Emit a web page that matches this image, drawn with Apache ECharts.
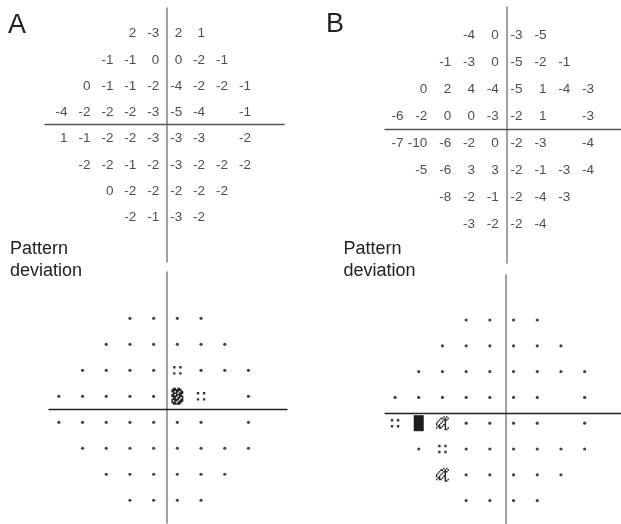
<!DOCTYPE html>
<html><head><meta charset="utf-8">
<script src="https://cdn.jsdelivr.net/npm/echarts@6/dist/echarts.min.js"></script>
<style>html,body{margin:0;padding:0;background:#fff}#c{width:621px;height:524px}</style>
</head><body><div id="c"></div>
<script>
// Test point locations (degrees), 24-2 grid
const colsDeg = [-27, -21, -15, -9, -3, 3, 9, 15, 21];
const rowsDeg = [21, 15, 9, 3, -3, -9, -15, -21];

// Total deviation values (dB), null = no test point / blind spot
const totalA = [
  [null, null, null, 2, -3, 2, 1, null, null],
  [null, null, -1, -1, 0, 0, -2, -1, null],
  [null, 0, -1, -1, -2, -4, -2, -2, -1],
  [-4, -2, -2, -2, -3, -5, -4, null, -1],
  [1, -1, -2, -2, -3, -3, -3, null, -2],
  [null, -2, -2, -1, -2, -3, -2, -2, -2],
  [null, null, 0, -2, -2, -2, -2, -2, null],
  [null, null, null, -2, -1, -3, -2, null, null]
];
const totalB = [
  [null, null, null, -4, 0, -3, -5, null, null],
  [null, null, -1, -3, 0, -5, -2, -1, null],
  [null, 0, 2, 4, -4, -5, 1, -4, -3],
  [-6, -2, 0, 0, -3, -2, 1, null, -3],
  [-7, -10, -6, -2, 0, -2, -3, null, -4],
  [null, -5, -6, 3, 3, -2, -1, -3, -4],
  [null, null, -8, -2, -1, -2, -4, -3, null],
  [null, null, null, -3, -2, -2, -4, null, null]
];

// Pattern deviation probability symbols: 0 normal, 1 p<5%, 2 p<2%, 3 p<1%, 4 p<0.5%
const patternA = [
  [null, null, null, 0, 0, 0, 0, null, null],
  [null, null, 0, 0, 0, 0, 0, 0, null],
  [null, 0, 0, 0, 0, 1, 0, 0, 0],
  [0, 0, 0, 0, 0, 3, 1, null, 0],
  [0, 0, 0, 0, 0, 0, 0, null, 0],
  [null, 0, 0, 0, 0, 0, 0, 0, 0],
  [null, null, 0, 0, 0, 0, 0, 0, null],
  [null, null, null, 0, 0, 0, 0, null, null]
];
const patternB = [
  [null, null, null, 0, 0, 0, 0, null, null],
  [null, null, 0, 0, 0, 0, 0, 0, null],
  [null, 0, 0, 0, 0, 0, 0, 0, 0],
  [0, 0, 0, 0, 0, 0, 0, null, 0],
  [1, 4, 2, 0, 0, 0, 0, null, 0],
  [null, 0, 1, 0, 0, 0, 0, 0, 0],
  [null, null, 2, 0, 0, 0, 0, 0, null],
  [null, null, null, 0, 0, 0, 0, null, null]
];

const panelLabels = ['A', 'B'];
const subLabel = 'Pattern\ndeviation';

function toPoints(grid) {
  const out = [];
  grid.forEach((row, i) => row.forEach((v, j) => {
    if (v !== null) out.push([colsDeg[j], rowsDeg[i], v]);
  }));
  return out;
}

function patternPath(rows) {
  let d = '';
  rows.forEach((r, y) => {
    for (let x = 0; x < r.length; x++) if (r[x] === 'X') d += 'M' + x + ',' + y + 'h1v1h-1z';
  });
  return 'path://' + d;
}
const fourDots = patternPath(['XX...XX', 'XX...XX', '.......', '.......', '.......', 'XX...XX', 'XX...XX']);
const bugSym = patternPath([
  '.....X.X.',
  '...XX.X.X',
  '..X..XXX.',
  '.X..X.X..',
  'X..X..X..',
  'X.X..XX..',
  '.XX.X.X..',
  'X.XX..X.X',
  '......XX.'
]);
const blobSym = patternPath([
  '.XX.XX..',
  'XXXXXXX.',
  'XX.XX.XX',
  '.XXX.XXX',
  'XX.XXXX.',
  'XXXX.XXX',
  '.XX.XX.X',
  'XXXXX.XX',
  'X.XX.XXX',
  'XXX.XXX.',
  '.XXXXX..'
]);
const symDefs = {
  0: { symbol: 'circle', size: 3.2, color: '#444' },
  1: { symbol: fourDots, size: [8.5, 8.5], color: '#3a3a3a' },
  2: { symbol: bugSym, size: [13, 14], color: '#2a2a2a' },
  3: { symbol: blobSym, size: [12, 17], color: '#222' },
  4: { symbol: 'rect', size: [10, 16], color: '#1c1c1c' }
};

const FONT = '"Liberation Sans", Arial, Helvetica, sans-serif';

// grid boxes (pixel layout) and axis ranges so that zero sits on the crosshair
const panels = [
  { grid: { left: 45, top: 8, width: 239, height: 254 }, x: [-31.86, 30.7], y: [-31.4, 26.6], hColor: '#555', vColor: '#8a8a8a' },
  { grid: { left: 385, top: 7, width: 236, height: 256 }, x: [-30.65, 28.79], y: [-29.78, 27.11], hColor: '#555', vColor: '#8a8a8a' },
  { grid: { left: 49, top: 272, width: 238, height: 251 }, x: [-29.75, 30.51], y: [-26.26, 31.71], hColor: '#222', vColor: '#8a8a8a' },
  { grid: { left: 385, top: 275, width: 236, height: 249 }, x: [-30.63, 29.11], y: [-25.74, 32.16], hColor: '#222', vColor: '#8a8a8a' }
];

const grids = [], xAxes = [], yAxes = [];
panels.forEach((p, i) => {
  grids.push(Object.assign({ containLabel: false }, p.grid));
  xAxes.push({
    type: 'value', gridIndex: i, min: p.x[0], max: p.x[1],
    axisLine: { show: true, onZero: true, lineStyle: { color: p.hColor, width: 1.3 } },
    axisTick: { show: false }, axisLabel: { show: false }, splitLine: { show: false }
  });
  yAxes.push({
    type: 'value', gridIndex: i, min: p.y[0], max: p.y[1],
    axisLine: { show: true, onZero: true, lineStyle: { color: p.vColor, width: 1.6 } },
    axisTick: { show: false }, axisLabel: { show: false }, splitLine: { show: false }
  });
});

function numberSeries(idx, data) {
  return {
    type: 'scatter', xAxisIndex: idx, yAxisIndex: idx, data: toPoints(data),
    symbolSize: 1, itemStyle: { color: 'transparent' }, silent: true,
    label: {
      show: true, position: 'inside', align: 'right', verticalAlign: 'middle', offset: [4, 1],
      formatter: (p) => String(p.value[2]), fontSize: 13.5, color: '#222', fontFamily: FONT
    }
  };
}
function symbolSeries(idx, data, off) {
  return {
    type: 'scatter', xAxisIndex: idx, yAxisIndex: idx, data: toPoints(data), silent: true,
    symbol: (v) => symDefs[v[2]].symbol,
    symbolSize: (v) => symDefs[v[2]].size,
    symbolOffset: off,
    itemStyle: { color: (p) => symDefs[p.value[2]].color, opacity: 1 }
  };
}

const option = {
  animation: false,
  backgroundColor: '#fff',
  grid: grids, xAxis: xAxes, yAxis: yAxes,
  graphic: [
    { type: 'text', x: 8, y: 12, style: { text: panelLabels[0], font: '27px ' + FONT, fill: '#222', verticalAlign: 'top', lineHeight: 27 } },
    { type: 'text', x: 326, y: 11, style: { text: panelLabels[1], font: '27px ' + FONT, fill: '#222', verticalAlign: 'top', lineHeight: 27 } },
    { type: 'text', x: 10, y: 238, style: { text: subLabel, font: '18px ' + FONT, fill: '#222', verticalAlign: 'top', lineHeight: 22 } },
    { type: 'text', x: 343.5, y: 238, style: { text: subLabel, font: '18px ' + FONT, fill: '#222', verticalAlign: 'top', lineHeight: 22 } }
  ],
  series: [
    numberSeries(0, totalA),
    numberSeries(1, totalB),
    symbolSeries(2, patternA, [-1, 0]),
    symbolSeries(3, patternB, [-4.3, -3])
  ]
};
const chart = echarts.init(document.getElementById('c'), null, { renderer: 'canvas' });
chart.setOption(option);
</script>
</body></html>
